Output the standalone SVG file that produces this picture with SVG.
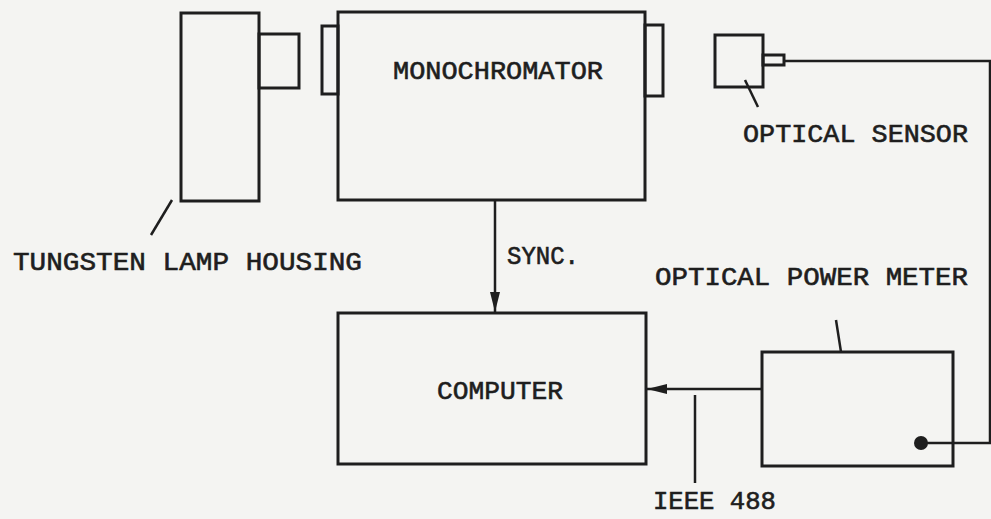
<svg xmlns="http://www.w3.org/2000/svg" width="991" height="519" viewBox="0 0 991 519">
<style>
.b{fill:none;stroke:#1e1e1e;stroke-width:3}
.l{fill:none;stroke:#1e1e1e;stroke-width:2.5}
text{font-family:"Liberation Mono","DejaVu Sans Mono",monospace;font-size:25px;fill:#1e1e1e;stroke:#1e1e1e;stroke-width:0.6}
</style>
<defs>
<marker id="ah" viewBox="0 0 20 10" refX="20" refY="5" markerWidth="20" markerHeight="10" markerUnits="userSpaceOnUse" orient="auto"><path d="M0,0 L20,5 L0,10 z" fill="#1e1e1e"/></marker>
</defs>
<rect width="991" height="519" fill="#f4f4f2"/>
<g id="lamp">
<rect class="b" x="181" y="13" width="78" height="188"/>
<rect class="b" x="259" y="34" width="40" height="54"/>
<line class="l" x1="172" y1="200" x2="151" y2="235"/>
<text x="13" y="270" textLength="349" lengthAdjust="spacingAndGlyphs">TUNGSTEN LAMP HOUSING</text>
</g>
<g id="monochromator">
<rect class="b" x="338" y="12" width="307" height="188"/>
<rect class="b" x="322" y="26" width="16" height="68"/>
<rect class="b" x="645" y="25" width="18" height="71"/>
<text x="393" y="79" textLength="210" lengthAdjust="spacingAndGlyphs">MONOCHROMATOR</text>
</g>
<g id="sensor">
<rect class="b" x="715" y="35" width="48" height="52"/>
<rect class="b" x="763" y="55" width="21" height="10"/>
<line class="l" x1="745" y1="80" x2="758" y2="107"/>
<text x="743" y="142" textLength="225" lengthAdjust="spacingAndGlyphs">OPTICAL SENSOR</text>
</g>
<g id="computer">
<rect class="b" x="338" y="313" width="308" height="151"/>
<text x="437" y="399" textLength="126" lengthAdjust="spacingAndGlyphs">COMPUTER</text>
</g>
<g id="meter">
<rect class="b" x="762" y="352" width="191" height="114"/>
<circle cx="921" cy="443" r="7" fill="#1e1e1e"/>
<line class="l" x1="836" y1="320" x2="841" y2="352"/>
<text x="655" y="285" textLength="313" lengthAdjust="spacingAndGlyphs">OPTICAL POWER METER</text>
</g>
<g id="connectors">
<polyline class="l" points="784,61 990,61 990,443 921,443"/>
<line class="l" x1="495" y1="200" x2="495" y2="312" marker-end="url(#ah)"/>
<text x="507" y="264" textLength="72" lengthAdjust="spacingAndGlyphs">SYNC.</text>
<line class="l" x1="762" y1="389" x2="647" y2="389" marker-end="url(#ah)"/>
<line class="l" x1="695" y1="395" x2="695" y2="483"/>
<text x="653" y="509" font-size="24" textLength="123" lengthAdjust="spacingAndGlyphs">IEEE 488</text>
</g>
</svg>
